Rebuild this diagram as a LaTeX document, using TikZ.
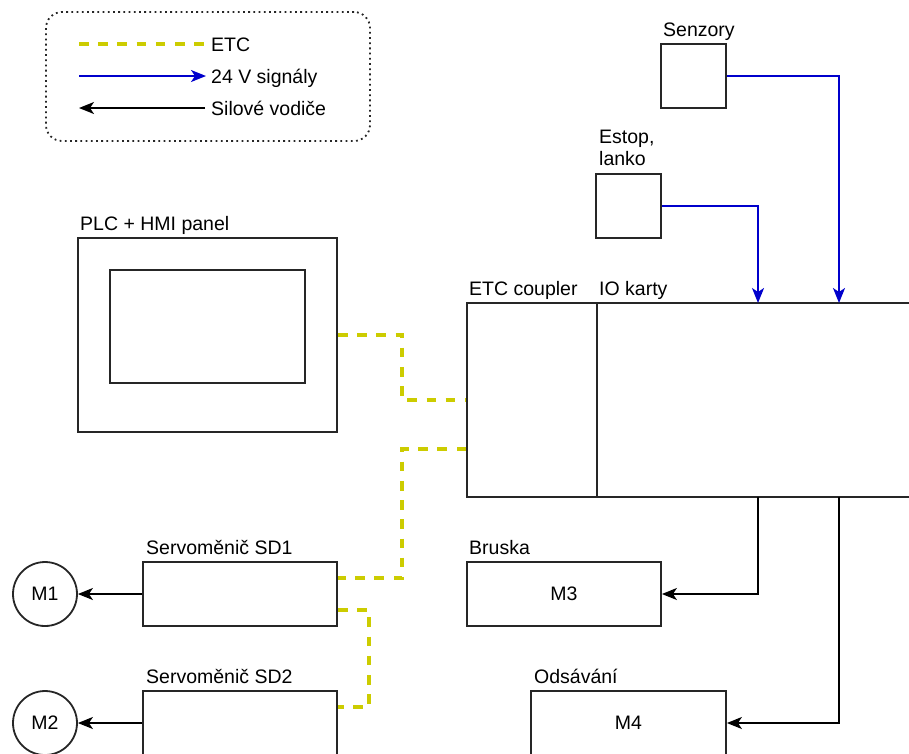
\documentclass[tikz,border=0pt]{standalone}
\usepackage{fontspec}
\setmainfont{Liberation Sans}
\usetikzlibrary{arrows.meta,calc}
\definecolor{etcy}{HTML}{CCCC00}
\definecolor{sigb}{HTML}{0000CC}
\tikzset{
  box/.style={draw=black!85, line width=1.8pt, fill=white, inner sep=0pt},
  lbl/.style={anchor=base west, inner sep=0pt},
  etcline/.style={draw=etcy, line width=3.4pt, dash pattern=on 9.6pt off 9.6pt},
  sigline/.style={draw=sigb, line width=2pt, -{Stealth[length=15pt,width=12pt,inset=4pt]}},
  pwrline/.style={draw=black, line width=1.8pt, -{Stealth[length=15pt,width=12pt,inset=4pt]}},
}
\begin{document}
\begin{tikzpicture}[x=1pt,y=-1pt,font=\fontsize{19.5}{23}\selectfont]
\useasboundingbox (0,0) rectangle (909,753);
\begin{scope}
\clip (0,0) rectangle (909,753);
% legend
\node[draw=black!85, line width=1.8pt, dash pattern=on 1.8pt off 3.4pt, rounded corners=16pt,
  minimum width=324pt, minimum height=129pt, inner sep=0pt] (legend) at (208,76.5) {};
\coordinate (la1) at (79,44); \coordinate (lb1) at (205,44);
\coordinate (la2) at (79,76); \coordinate (lb2) at (206,76);
\coordinate (la3) at (79,108); \coordinate (lb3) at (205,108);
\draw[etcline] (la1) -- (lb1);
\draw[sigline] (la2) -- (lb2);
\draw[pwrline] (lb3) -- (la3);
\node[lbl] (t1) at (211,51) {ETC};
\node[lbl] (t2) at (211,83) {24 V signály};
\node[lbl] (t3) at (211,115) {Silové vodiče};

% PLC
\node[box, minimum width=259pt, minimum height=194pt] (plc) at (207.5,335) {};
\node[box, minimum width=195pt, minimum height=113pt] (plcin) at (207.5,326.5) {};
\node[lbl] (plcl) at (80,230) {PLC + HMI panel};

% ETC coupler and IO cards
\node[box, minimum width=130pt, minimum height=194pt] (etc) at (532,400) {};
\node[box, minimum width=328pt, minimum height=194pt] (io) at (761,400) {};
\node[lbl] (etcl) at (469,295) {ETC coupler};
\node[lbl] (iol) at (599,295) {IO karty};

% Sensors and estop
\node[box, minimum width=65pt, minimum height=64pt] (senz) at (693.5,76) {};
\node[lbl] (senzl) at (663,36) {Senzory};
\node[box, minimum width=65pt, minimum height=64pt] (estop) at (628.5,206) {};
\node[lbl] (estopl1) at (599,143) {Estop,};
\node[lbl] (estopl2) at (599,165) {lanko};

% Motors boxes
\node[box, minimum width=194pt, minimum height=64pt] (m3) at (564,594) {M3};
\node[lbl] (m3l) at (469,554) {Bruska};
\node[box, minimum width=195pt, minimum height=64pt] (m4) at (628.5,723) {M4};
\node[lbl] (m4l) at (534,683) {Odsávání};

% Servo drives
\node[box, minimum width=194pt, minimum height=64pt] (sd1) at (240,594) {};
\node[lbl] (sd1l) at (146,554) {Servoměnič SD1};
\node[box, minimum width=194pt, minimum height=64pt] (sd2) at (240,723) {};
\node[lbl] (sd2l) at (146,683) {Servoměnič SD2};

\node[box, circle, minimum size=64pt] (M1) at (45,594) {M1};
\node[box, circle, minimum size=64pt] (M2) at (45,723) {M2};

% connection points
\coordinate (ioA) at (758,303);
\coordinate (ioB) at (839,303);
\coordinate (ioC) at (758,497);
\coordinate (ioD) at (839,497);

% ETC lines
\draw[etcline] (plc.east) -- (402,335) |- (etc.west);
\draw[etcline] ([yshift=-49pt]etc.west) -- (402,449) |- ([yshift=16pt]sd1.east);
\draw[etcline] ([yshift=-16pt]sd1.east) -- (369,610) |- ([yshift=16pt]sd2.east);

% signals
\draw[sigline] (senz.east) -| (ioB);
\draw[sigline] (estop.east) -| (ioA);

% power
\draw[pwrline] (ioC) |- (m3.east);
\draw[pwrline] (ioD) |- (m4.east);
\draw[pwrline] (sd1.west) -- (M1.east);
\draw[pwrline] (sd2.west) -- (M2.east);
\end{scope}
\end{tikzpicture}
\end{document}
